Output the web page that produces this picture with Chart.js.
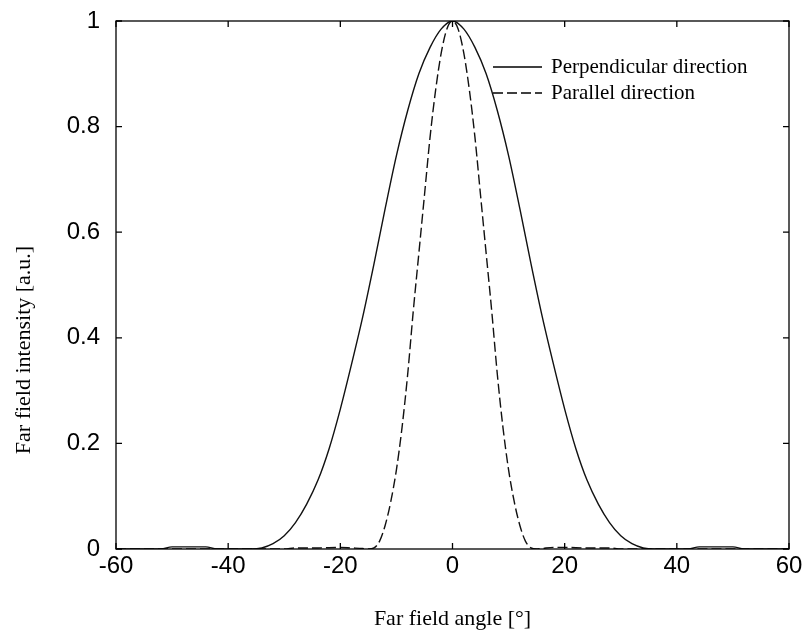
<!DOCTYPE html>
<html>
<head>
<meta charset="utf-8">
<script src="https://cdn.jsdelivr.net/npm/chart.js@4/dist/chart.umd.min.js"></script>
<style>
  body { margin: 0; background: #fff; }
</style>
</head>
<body>
<canvas id="farField" width="804" height="637"></canvas>
<script>
// angles in degrees, intensity
const perpAngles = [-60, -52, -50, -48, -46, -44, -42, -38, -36, -34, -32, -30, -28, -26, -24, -22, -20, -18, -16, -14, -12, -10, -8, -6, -4, -2, 0,
    2, 4, 6, 8, 10, 12, 14, 16, 18, 20, 22, 24, 26, 28, 30, 32, 34, 36, 38, 42, 44, 46, 48, 50, 52, 60];
const perpValues = [0, 0, 0.004, 0.004, 0.004, 0.004, 0, 0, 0, 0.002, 0.01, 0.025, 0.05, 0.085, 0.13, 0.19, 0.265, 0.35, 0.44, 0.54, 0.645, 0.745, 0.83, 0.90, 0.95, 0.985, 1.0,
    0.985, 0.95, 0.90, 0.83, 0.745, 0.645, 0.54, 0.44, 0.35, 0.265, 0.19, 0.13, 0.085, 0.05, 0.025, 0.01, 0.002, 0, 0, 0, 0.004, 0.004, 0.004, 0.004, 0, 0];

const paraAngles = [-60, -30, -28, -24, -20, -18, -16, -15, -14, -13, -12, -11, -10, -9, -8, -7, -6, -5, -4, -3, -2, -1, 0,
    1, 2, 3, 4, 5, 6, 7, 8, 9, 10, 11, 12, 13, 14, 15, 16, 18, 20, 24, 28, 30, 60];
const paraValues = [0, 0, 0.002, 0.002, 0.003, 0.002, 0.001, 0, 0.002, 0.015, 0.045, 0.09, 0.15, 0.23, 0.33, 0.45, 0.56, 0.67, 0.78, 0.87, 0.94, 0.985, 1.0,
    0.985, 0.94, 0.87, 0.78, 0.67, 0.56, 0.45, 0.33, 0.23, 0.15, 0.09, 0.045, 0.015, 0.002, 0, 0.001, 0.003, 0.003, 0.002, 0.002, 0, 0];

const xTicks = [-60, -40, -20, 0, 20, 40, 60];
const yTicks = [0, 0.2, 0.4, 0.6, 0.8, 1];

const seriesNames = ["Perpendicular direction", "Parallel direction"];
const yTitle = "Far field intensity [a.u.]";

function toPoints(xs, ys) {
    return xs.map((x, i) => ({ x: x, y: ys[i] }));
}

// box, inward ticks on all four sides, in-plot legend and y title, like matlab
const matlabFrame = {
    id: 'matlabFrame',
    afterDraw(chart) {
        const ctx = chart.ctx;
        const a = chart.chartArea;
        const xs = chart.scales.x, ys = chart.scales.y;
        ctx.save();
        ctx.strokeStyle = '#000';
        ctx.lineWidth = 1.3;
        ctx.setLineDash([]);
        ctx.strokeRect(a.left, a.top, a.right - a.left, a.bottom - a.top);
        const tl = 6;
        ctx.beginPath();
        xTicks.forEach(v => {
            const px = xs.getPixelForValue(v);
            ctx.moveTo(px, a.bottom); ctx.lineTo(px, a.bottom - tl);
            ctx.moveTo(px, a.top); ctx.lineTo(px, a.top + tl);
        });
        yTicks.forEach(v => {
            const py = ys.getPixelForValue(v);
            ctx.moveTo(a.left, py); ctx.lineTo(a.left + tl, py);
            ctx.moveTo(a.right, py); ctx.lineTo(a.right - tl, py);
        });
        ctx.stroke();

        // legend
        ctx.font = '21px "Liberation Serif", "Times New Roman", serif';
        ctx.textBaseline = 'middle';
        ctx.fillStyle = '#000';
        const lx = 493, rows = [67, 93];
        chart.data.datasets.forEach((ds, i) => {
            ctx.beginPath();
            ctx.setLineDash(ds.borderDash || []);
            ctx.lineWidth = 1.6;
            ctx.moveTo(lx, rows[i]); ctx.lineTo(lx + 49, rows[i]);
            ctx.stroke();
            ctx.setLineDash([]);
            ctx.fillText(ds.label, lx + 58, rows[i]);
        });

        // y title
        ctx.font = '22px "Liberation Serif", "Times New Roman", serif';
        ctx.textAlign = 'center';
        ctx.translate(24, 350);
        ctx.rotate(-Math.PI / 2);
        ctx.fillText(yTitle, 0, 0);
        ctx.restore();
    }
};

new Chart(document.getElementById("farField").getContext("2d"), {
    type: 'line',
    data: {
        datasets: [{
            label: seriesNames[0],
            data: toPoints(perpAngles, perpValues),
            borderColor: '#111',
            borderWidth: 1.4,
            pointRadius: 0,
            cubicInterpolationMode: 'monotone'
        }, {
            label: seriesNames[1],
            data: toPoints(paraAngles, paraValues),
            borderColor: '#111',
            borderWidth: 1.4,
            borderDash: [10, 4],
            pointRadius: 0,
            cubicInterpolationMode: 'monotone'
        }]
    },
    options: {
        responsive: false,
        animation: false,
        layout: { padding: { top: 21, right: 15, left: 0, bottom: 0 } },
        plugins: {
            legend: { display: false },
            tooltip: { enabled: false }
        },
        scales: {
            x: {
                type: 'linear',
                min: -60,
                max: 60,
                afterBuildTicks: s => { s.ticks = xTicks.map(v => ({ value: v })); },
                afterFit: s => { s.height = 88; s.paddingLeft = 0; s.paddingRight = 0; },
                grid: { display: false, drawTicks: false },
                border: { display: false },
                ticks: {
                    padding: 3,
                    color: '#000',
                    font: { family: '"Liberation Sans", Arial, sans-serif', size: 24 }
                },
                title: {
                    display: true,
                    text: 'Far field angle [°]',
                    color: '#000',
                    padding: { top: 0, bottom: 5 },
                    font: { family: '"Liberation Serif", "Times New Roman", serif', size: 22 }
                }
            },
            y: {
                min: 0,
                max: 1,
                afterBuildTicks: s => { s.ticks = yTicks.map(v => ({ value: v })); },
                afterFit: s => { s.width = 116; s.paddingTop = 0; s.paddingBottom = 0; },
                grid: { display: false, drawTicks: false },
                border: { display: false },
                ticks: {
                    padding: 16,
                    color: '#000',
                    callback: v => String(v),
                    font: { family: '"Liberation Sans", Arial, sans-serif', size: 24 }
                }
            }
        }
    },
    plugins: [matlabFrame]
});
</script>
</body>
</html>
